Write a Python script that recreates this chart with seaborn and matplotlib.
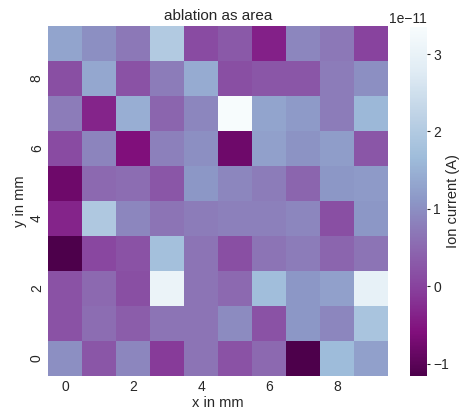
import numpy as np
import matplotlib
matplotlib.use('Agg')
import matplotlib.pyplot as plt
import seaborn as sns

# ion current per grid cell, in units of 1e-11 A; row index = y in mm (0 at bottom)
row_y0 = [1.0, 0.25, 0.9, -0.1, 0.65, 0.2, 0.5, -1.16, 1.65, 1.25]
row_y1 = [0.2, 0.55, 0.35, 0.65, 0.65, 0.95, 0.2, 1.1, 0.9, 1.85]
row_y2 = [0.2, 0.5, 0.15, 3.05, 0.65, 0.5, 1.7, 1.1, 1.25, 2.95]
row_y3 = [-1.15, 0.05, 0.2, 1.75, 0.65, 0.15, 0.65, 0.75, 0.45, 0.65]
row_y4 = [-0.35, 1.95, 0.9, 0.65, 0.75, 0.8, 0.8, 0.9, 0.15, 1.1]
row_y5 = [-0.8, 0.5, 0.55, 0.25, 1.1, 0.9, 0.75, 0.45, 1.1, 1.15]
row_y6 = [0.1, 0.85, -0.6, 0.8, 1.0, -0.8, 1.25, 1.05, 1.2, 0.25]
row_y7 = [0.75, -0.35, 1.45, 0.45, 0.9, 3.35, 1.3, 1.15, 0.75, 1.6]
row_y8 = [0.15, 1.35, 0.2, 0.75, 1.4, 0.15, 0.25, 0.25, 0.75, 1.0]
row_y9 = [1.3, 1.0, 0.7, 2.0, 0.1, 0.3, -0.4, 0.9, 0.7, 0.0]

current = np.array([row_y0, row_y1, row_y2, row_y3, row_y4,
                    row_y5, row_y6, row_y7, row_y8, row_y9]) * 1e-11

sns.set_theme(style='white')
plt.rcParams['font.family'] = ['Liberation Sans', 'DejaVu Sans']
plt.rcParams.update({
    'xtick.labelsize': 10, 'ytick.labelsize': 10,
    'xtick.major.size': 0, 'xtick.major.pad': 3,
    'ytick.major.size': 2.5, 'ytick.major.width': 0.8, 'ytick.major.pad': 2,
    'axes.labelpad': 2,
})

W, H = 465, 411
fig = plt.figure(figsize=(W / 100, H / 100), dpi=100)
ax = fig.add_axes([48 / W, 35 / H, 340 / W, 350 / H])
cax = fig.add_axes([410 / W, 35 / H, 17 / W, 349 / H])

sns.heatmap(current, cmap='BuPu_r', ax=ax, cbar_ax=cax,
            xticklabels=2, yticklabels=2,
            cbar_kws={'label': 'Ion current (A)'})
ax.invert_yaxis()
ax.tick_params(axis='y', length=0, pad=3)

ax.set_title('ablation as area', fontsize=11, pad=4)
ax.set_xlabel('x in mm', fontsize=10.5, labelpad=1)
ax.set_ylabel('y in mm', fontsize=10.5, labelpad=2)
cax.set_ylabel('Ion current (A)', fontsize=10.5, labelpad=-2)

fig.savefig('out.png', dpi=100)
